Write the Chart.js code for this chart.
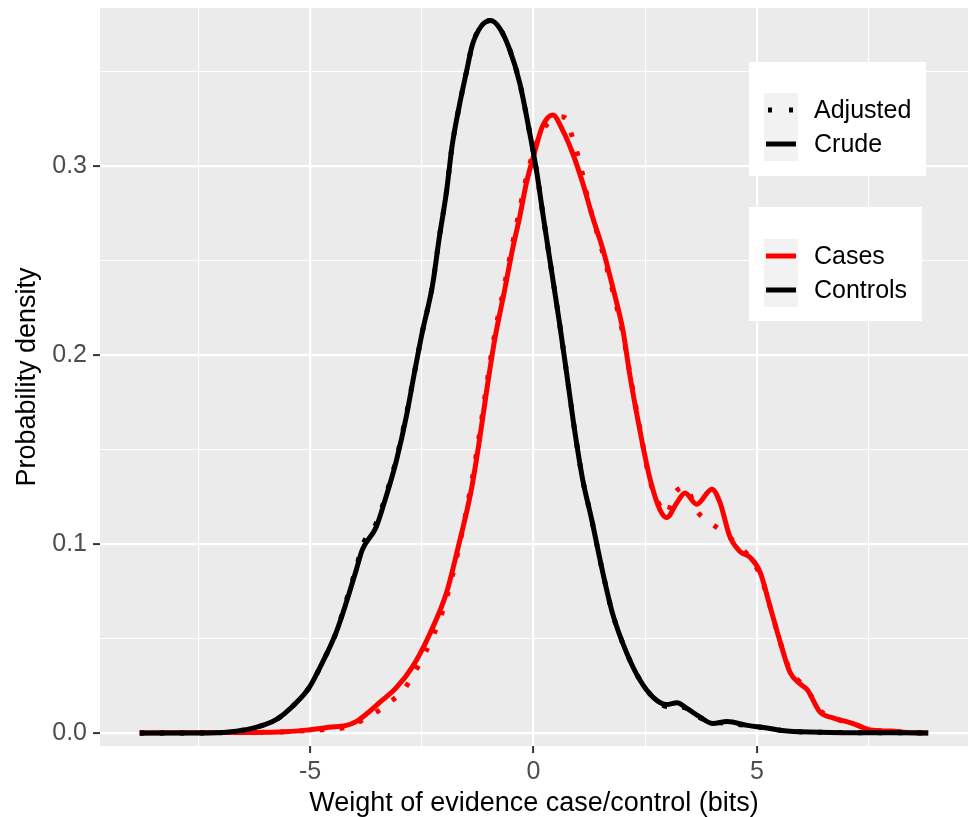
<!DOCTYPE html>
<html>
<head>
<meta charset="utf-8">
<script src="https://cdn.jsdelivr.net/npm/chart.js@4.4.0/dist/chart.umd.min.js"></script>
<style>
  html, body { margin: 0; padding: 0; background: #ffffff; }
</style>
</head>
<body>
<canvas id="myChart" width="968" height="817"></canvas>
<script>
// values (density curves)
var controlsX = [-8.81, -7.49, -6.82, -6.21, -5.76, -5.31, -5.02, -4.73, -4.42, -4.19, -3.97, -3.83, -3.52, -3.30, -3.07, -2.85, -2.67, -2.49, -2.26, -2.11, -1.95, -1.82, -1.66, -1.50, -1.37, -1.17, -0.96, -0.76, -0.54, -0.31, -0.09, 0.07, 0.20, 0.36, 0.58, 0.76, 0.92, 1.10, 1.30, 1.52, 1.77, 2.09, 2.38, 2.67, 2.98, 3.21, 3.43, 3.72, 4.01, 4.33, 4.78, 5.22, 5.67, 6.64, 8.83];
var controlsCrude = [0, 0, 0.0005, 0.003, 0.007, 0.016, 0.024, 0.037, 0.053, 0.069, 0.086, 0.097, 0.109, 0.125, 0.144, 0.167, 0.190, 0.212, 0.237, 0.262, 0.286, 0.311, 0.332, 0.350, 0.364, 0.374, 0.377, 0.373, 0.362, 0.344, 0.318, 0.297, 0.276, 0.251, 0.217, 0.187, 0.160, 0.134, 0.113, 0.088, 0.063, 0.042, 0.028, 0.019, 0.015, 0.016, 0.013, 0.0085, 0.005, 0.006, 0.004, 0.0026, 0.001, 0.0003, 0];
var controlsAdjusted = [0, 0, 0.0005, 0.003, 0.007, 0.016, 0.024, 0.037, 0.053, 0.070, 0.087, 0.099, 0.111, 0.126, 0.145, 0.168, 0.190, 0.212, 0.237, 0.262, 0.286, 0.311, 0.332, 0.350, 0.364, 0.374, 0.377, 0.373, 0.362, 0.344, 0.318, 0.297, 0.276, 0.251, 0.217, 0.187, 0.160, 0.134, 0.113, 0.088, 0.063, 0.042, 0.028, 0.019, 0.014, 0.014, 0.013, 0.008, 0.006, 0.005, 0.004, 0.0026, 0.001, 0.0003, 0];

var casesX = [-8.81, -6.82, -5.70, -5.09, -4.57, -4.19, -3.97, -3.74, -3.45, -3.07, -2.71, -2.33, -1.95, -1.70, -1.39, -1.21, -1.05, -0.87, -0.65, -0.47, -0.31, -0.16, 0.02, 0.20, 0.43, 0.65, 0.87, 1.10, 1.32, 1.55, 1.77, 2.00, 2.15, 2.38, 2.60, 2.83, 2.98, 3.21, 3.39, 3.65, 3.99, 4.17, 4.39, 4.62, 4.84, 5.07, 5.29, 5.52, 5.74, 5.96, 6.12, 6.41, 6.70, 7.15, 7.53, 7.98, 8.36, 8.83];
var casesCrude = [0, 0.0002, 0.0005, 0.0015, 0.003, 0.004, 0.006, 0.010, 0.016, 0.024, 0.035, 0.052, 0.074, 0.097, 0.129, 0.155, 0.181, 0.208, 0.234, 0.256, 0.273, 0.291, 0.307, 0.321, 0.327, 0.319, 0.307, 0.291, 0.273, 0.256, 0.236, 0.213, 0.190, 0.160, 0.135, 0.118, 0.114, 0.122, 0.127, 0.121, 0.129, 0.122, 0.104, 0.096, 0.093, 0.085, 0.067, 0.048, 0.032, 0.026, 0.023, 0.011, 0.008, 0.005, 0.0016, 0.001, 0.0003, 0];

var casesAdjX = [-8.81, -6.82, -5.70, -5.09, -4.57, -4.19, -3.97, -3.74, -3.45, -3.07, -2.96, -2.71, -2.50, -2.33, -2.10, -1.95, -1.70, -1.39, -1.21, -1.05, -0.87, -0.65, -0.47, -0.31, -0.16, 0.02, 0.20, 0.43, 0.60, 0.74, 0.87, 1.01, 1.12, 1.21, 1.32, 1.55, 1.77, 2.00, 2.15, 2.38, 2.60, 2.83, 2.98, 3.16, 3.43, 3.61, 3.92, 4.26, 4.64, 4.93, 5.11, 5.29, 5.52, 5.74, 5.96, 6.12, 6.41, 6.70, 7.15, 7.53, 7.98, 8.36, 8.83];
var casesAdjusted = [0, 0.0002, 0.0005, 0.0012, 0.002, 0.003, 0.005, 0.008, 0.012, 0.019, 0.021, 0.030, 0.039, 0.047, 0.060, 0.071, 0.095, 0.132, 0.158, 0.184, 0.211, 0.237, 0.259, 0.277, 0.294, 0.309, 0.319, 0.324, 0.326, 0.325, 0.315, 0.304, 0.293, 0.283, 0.273, 0.254, 0.234, 0.211, 0.191, 0.161, 0.134, 0.120, 0.116, 0.127, 0.130, 0.119, 0.112, 0.106, 0.098, 0.090, 0.081, 0.067, 0.048, 0.033, 0.027, 0.023, 0.012, 0.008, 0.005, 0.0016, 0.001, 0.0003, 0];

var xTicks = [-7.5, -5, -2.5, 0, 2.5, 5, 7.5];
var yTicks = [0, 0.05, 0.1, 0.15, 0.2, 0.25, 0.3, 0.35];
var linetypeLabels = ['Adjusted', 'Crude'];
var groupLabels = ['Cases', 'Controls'];

var FONT = "'Liberation Sans', Arial, Helvetica, sans-serif";
var RED = '#FF0000';
var BLACK = '#000000';
var LW = 5;

function pts(xs, ys) {
    var out = [];
    for (var i = 0; i < xs.length; i++) {
        out.push({ x: xs[i], y: ys[i] });
    }
    return out;
}

function isMajorX(v) { return Math.abs(v % 5) < 1e-9; }
function isMajorY(v) { return Math.abs(v * 10 - Math.round(v * 10)) < 1e-9; }

// grey panel + white page
var panelBg = {
    id: 'panelBg',
    beforeDraw: function (chart) {
        var ctx = chart.ctx, a = chart.chartArea;
        ctx.save();
        ctx.fillStyle = '#FFFFFF';
        ctx.fillRect(0, 0, chart.width, chart.height);
        ctx.fillStyle = '#EBEBEB';
        ctx.fillRect(a.left, a.top, a.right - a.left, a.bottom - a.top);
        ctx.restore();
    }
};

// ggplot style legends (two boxes)
var ggLegend = {
    id: 'ggLegend',
    afterDraw: function (chart) {
        var ctx = chart.ctx;
        ctx.save();
        ctx.font = '25px ' + FONT;
        ctx.textBaseline = 'middle';

        // box 1: line types
        ctx.fillStyle = '#FFFFFF';
        ctx.fillRect(749, 62, 177, 114);
        ctx.fillStyle = '#F2F2F2';
        ctx.fillRect(764, 93, 34, 68);
        ctx.strokeStyle = BLACK;
        ctx.lineWidth = LW;
        ctx.lineCap = 'butt';
        ctx.setLineDash([4, 17]);
        ctx.beginPath(); ctx.moveTo(768, 110); ctx.lineTo(797, 110); ctx.stroke();
        ctx.setLineDash([]);
        ctx.beginPath(); ctx.moveTo(766, 144); ctx.lineTo(796, 144); ctx.stroke();
        ctx.fillStyle = '#000';
        ctx.fillText(linetypeLabels[0], 814, 111);
        ctx.fillText(linetypeLabels[1], 814, 145);

        // box 2: groups
        ctx.fillStyle = '#FFFFFF';
        ctx.fillRect(749, 207, 173, 114);
        ctx.fillStyle = '#F2F2F2';
        ctx.fillRect(764, 239, 34, 68);
        ctx.strokeStyle = RED;
        ctx.beginPath(); ctx.moveTo(766, 256); ctx.lineTo(796, 256); ctx.stroke();
        ctx.strokeStyle = BLACK;
        ctx.beginPath(); ctx.moveTo(766, 290); ctx.lineTo(796, 290); ctx.stroke();
        ctx.fillStyle = '#000';
        ctx.fillText(groupLabels[0], 814, 257);
        ctx.fillText(groupLabels[1], 814, 291);
        ctx.restore();
    }
};

var ctx = document.getElementById('myChart').getContext('2d');
var chart = new Chart(ctx, {
    type: 'line',
    data: {
        datasets: [{
            label: 'Controls crude',
            data: pts(controlsX, controlsCrude),
            borderColor: BLACK,
            borderWidth: LW
        }, {
            label: 'Controls adjusted',
            data: pts(controlsX, controlsAdjusted),
            borderColor: BLACK,
            borderWidth: LW,
            borderDash: [4.5, 15.5]
        }, {
            label: 'Cases crude',
            data: pts(casesX, casesCrude),
            borderColor: RED,
            borderWidth: LW
        }, {
            label: 'Cases adjusted',
            data: pts(casesAdjX, casesAdjusted),
            borderColor: RED,
            borderWidth: LW,
            borderDash: [4.5, 15.5]
        }]
    },
    options: {
        responsive: false,
        animation: false,
        layout: { padding: { top: 8, right: 0, left: 0, bottom: 0 } },
        elements: {
            point: { radius: 0 },
            line: { cubicInterpolationMode: 'monotone', borderJoinStyle: 'round', borderCapStyle: 'butt' }
        },
        plugins: { legend: { display: false }, tooltip: { enabled: false } },
        scales: {
            x: {
                type: 'linear',
                min: -9.7,
                max: 9.72,
                afterBuildTicks: function (s) { s.ticks = xTicks.map(function (v) { return { value: v }; }); },
                afterFit: function (s) { s.height = 71; s.paddingLeft = 0; s.paddingRight = 0; },
                border: { display: false },
                grid: {
                    color: '#FFFFFF',
                    lineWidth: function (c) { return isMajorX(c.tick.value) ? 2.2 : 1.1; },
                    tickLength: 7,
                    tickWidth: 2,
                    tickColor: function (c) { return isMajorX(c.tick.value) ? '#333333' : 'rgba(0,0,0,0)'; }
                },
                ticks: {
                    autoSkip: false,
                    maxRotation: 0,
                    padding: 4,
                    color: '#4D4D4D',
                    font: { family: FONT, size: 25 },
                    callback: function (v) { return isMajorX(v) ? String(v) : ''; }
                },
                title: {
                    display: true,
                    text: 'Weight of evidence case/control (bits)',
                    color: '#000000',
                    font: { family: FONT, size: 27, lineHeight: 1 },
                    padding: { top: 0, bottom: 0 }
                }
            },
            y: {
                type: 'linear',
                min: -0.0069,
                max: 0.3836,
                afterBuildTicks: function (s) { s.ticks = yTicks.map(function (v) { return { value: v }; }); },
                afterFit: function (s) { s.width = 100; s.paddingTop = 0; s.paddingBottom = 0; },
                border: { display: false },
                grid: {
                    color: '#FFFFFF',
                    lineWidth: function (c) { return isMajorY(c.tick.value) ? 2.2 : 1.1; },
                    tickLength: 7,
                    tickWidth: 2,
                    tickColor: function (c) { return isMajorY(c.tick.value) ? '#333333' : 'rgba(0,0,0,0)'; }
                },
                ticks: {
                    autoSkip: false,
                    padding: 6,
                    color: '#4D4D4D',
                    font: { family: FONT, size: 25 },
                    callback: function (v) { return isMajorY(v) ? v.toFixed(1) : ''; }
                },
                title: {
                    display: true,
                    text: 'Probability density',
                    color: '#000000',
                    font: { family: FONT, size: 27, lineHeight: 1 },
                    padding: { top: 14, bottom: 0 }
                }
            }
        }
    },
    plugins: [panelBg, ggLegend]
});
</script>
</body>
</html>
